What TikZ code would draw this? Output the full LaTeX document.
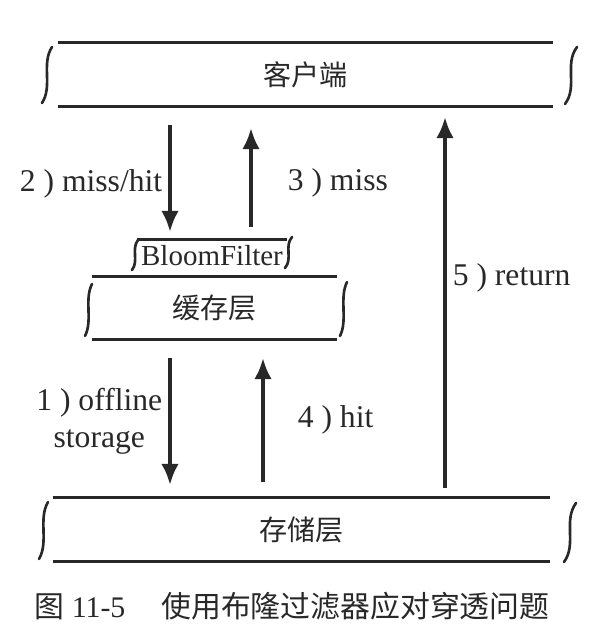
\documentclass[tikz,border=0pt]{standalone}
\usepackage{fontspec}
\setmainfont{Liberation Serif}
\newfontfamily\cjk{Noto Sans CJK SC}
\usepackage{tikz}
\usetikzlibrary{arrows.meta}
\tikzset{>={Latex[length=12pt,width=10pt]}}
\definecolor{ink}{RGB}{40,40,40}
\tikzset{layer/.style={inner sep=0pt, font=\cjk\fontsize{16}{18}\selectfont, text=ink}}
\tikzset{rule/.style={ink, line width=1.6pt}}
\tikzset{curl/.style={ink, line width=1.5pt, line cap=round}}
\tikzset{flow/.style={->, ink, line width=2.2pt}}
\tikzset{lbl/.style={font=\fontsize{18}{21}\selectfont, text=ink}}
% curly end of a layer: top end at (#3,#2), bottom end at (#1,#4)
\newcommand{\curlside}[4]{\draw[curl] (#3,#2) .. controls ({#1-1},{#2+0.3*(#4-#2)}) and ({#3+1},{#4-0.3*(#4-#2)}) .. (#1,#4);}

\begin{document}
\begin{tikzpicture}[x=0.02cm, y=-0.02cm]
\useasboundingbox (0,0) rectangle (603,634);

% layers
\node[layer, minimum width=9.9cm, minimum height=1.26cm] (client) at (305.5,74.5) {客户端};
\node[layer, minimum width=4.9cm, minimum height=1.24cm] (cache) at (214.5,308) {缓存层};
\node[layer, minimum width=9.94cm, minimum height=1.26cm] (store) at (301.5,529.5) {存储层};
\node[lbl, font=\fontsize{16.5}{19}\selectfont, inner sep=0pt, minimum width=3cm, minimum height=0.64cm] (bloom) at (212,256) {BloomFilter};

\draw[rule] (client.north west) -- (client.north east);
\draw[rule] (client.south west) -- (client.south east);
\draw[rule] (cache.north west) -- (cache.north east);
\draw[rule] (cache.south west) -- (cache.south east);
\draw[rule] (store.north west) -- (store.north east);
\draw[rule] (store.south west) -- (store.south east);
\draw[rule] (bloom.north west) -- (bloom.north east);

\curlside{42}{47}{52}{103}
\curlside{565}{47}{577}{104}
\curlside{85}{284}{92}{336}
\curlside{340}{282}{347}{336}
\curlside{132}{240}{138}{270}
\curlside{285}{237}{292}{268}
\curlside{39}{502}{48}{559}
\curlside{564}{503}{576}{562}

% arrow ends
\coordinate (c2) at (170,125);
\coordinate (b2) at (170,232);
\coordinate (b3) at (251,227);
\coordinate (c3) at (251,128);
\coordinate (k1) at (170,358);
\coordinate (s1) at (170,485);
\coordinate (s4) at (263,482);
\coordinate (k4) at (263,358);
\coordinate (s5) at (445,488);
\coordinate (c5) at (445,117);

\draw[flow] (c2) -- (b2) node[lbl, pos=0.55, left] {2 ) miss/hit};
\draw[flow] (b3) -- (c3) node[lbl, pos=0.45, right, xshift=0.58cm] {3 ) miss};
\draw[flow] (k1) -- (s1) node[lbl, midway, left, align=center] {1 ) offline\\storage};
\draw[flow] (s4) -- (k4) node[lbl, midway, right, xshift=0.54cm] {4 ) hit};
\draw[flow] (s5) -- (c5) node[lbl, pos=0.566, right] {5 ) return};

% caption
\node[lbl, font=\fontsize{17}{20}\selectfont] (cap) at (292,606) {{\cjk 图} 11-5\hspace{1.2em}{\cjk 使用布隆过滤器应对穿透问题}};

\end{tikzpicture}
\end{document}
